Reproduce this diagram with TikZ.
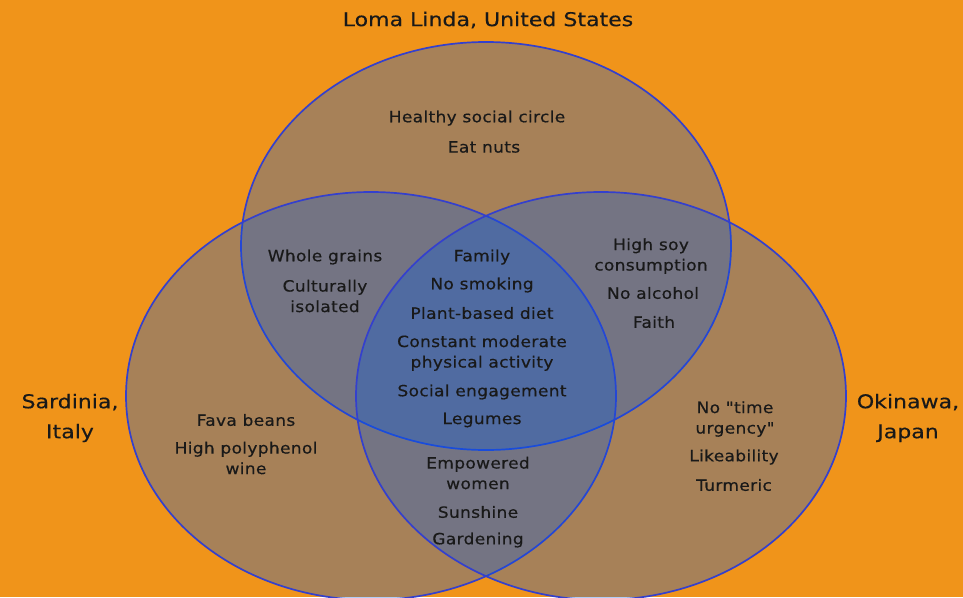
\documentclass[tikz,border=0pt]{standalone}
\usepackage{fontspec}
\newfontfamily\vennfont[FakeStretch=1.1,LetterSpace=2,FakeBold=0.4]{DejaVu Sans}
\newfontfamily\placefont[FakeStretch=1.16,FakeBold=0.3]{DejaVu Sans}
\definecolor{bgorange}{RGB}{240,148,26}
\definecolor{vennblue}{RGB}{0,88,233}
\definecolor{vennedge}{RGB}{52,64,205}
\tikzset{
  zone/.style={draw=vennedge, line width=1.7pt, fill=vennblue, fill opacity=0.3},
  item/.style={font=\vennfont\fontsize{15.5}{20.5}\selectfont, text=black!90,
    align=center, inner sep=0pt},
  place/.style={font=\placefont\fontsize{19}{30}\selectfont, text=black!90,
    align=center, inner sep=0pt},
}
\begin{document}
\begin{tikzpicture}[x=1pt,y=-1pt]
  \fill[bgorange] (0,0) rectangle (963,597);
  \useasboundingbox (0,0) rectangle (963,597);
  % the three places
  \draw[zone] (486,246) ellipse [x radius=245pt, y radius=204pt];
  \draw[zone] (371,396) ellipse [x radius=245pt, y radius=204pt];
  \draw[zone] (601,396) ellipse [x radius=245pt, y radius=204pt];
  \node[place] (loma) at (488,20) {Loma Linda, United States};
  \node[place] (sardinia) at (70,418) {Sardinia,\\Italy};
  \node[place] (okinawa) at (908,418) {Okinawa,\\Japan};
  % Loma Linda only
  \node[item] (healthy) at (477,118) {Healthy social circle};
  \node[item] (nuts) at (484,147) {Eat nuts};
  % Loma Linda and Sardinia
  \node[item] (grains) at (325,257) {Whole grains};
  \node[item] (isolated) at (325,296) {Culturally\\isolated};
  % all three
  \node[item] (family) at (482,257) {Family};
  \node[item] (nosmoke) at (482,285) {No smoking};
  \node[item] (plant) at (482,313) {Plant-based diet};
  \node[item] (activity) at (482,353) {Constant moderate\\physical activity};
  \node[item] (social) at (482,392) {Social engagement};
  \node[item] (legumes) at (482,420) {Legumes};
  % Sardinia and Okinawa
  \node[item] (women) at (478,473) {Empowered\\women};
  \node[item] (sunshine) at (478,512) {Sunshine};
  \node[item] (garden) at (478,540) {Gardening};
  % Loma Linda and Okinawa
  \node[item] (soy) at (651,256) {High soy\\consumption};
  \node[item] (alcohol) at (653,293) {No alcohol};
  \node[item] (faith) at (654,322) {Faith};
  % Okinawa only
  \node[item] (urgency) at (735,419) {No "time\\urgency"};
  \node[item] (likeable) at (734,457) {Likeability};
  \node[item] (turmeric) at (734,485) {Turmeric};
  % Sardinia only
  \node[item] (fava) at (246,420) {Fava beans};
  \node[item] (polyphenol) at (246,458) {High polyphenol\\wine};
\end{tikzpicture}
\end{document}
